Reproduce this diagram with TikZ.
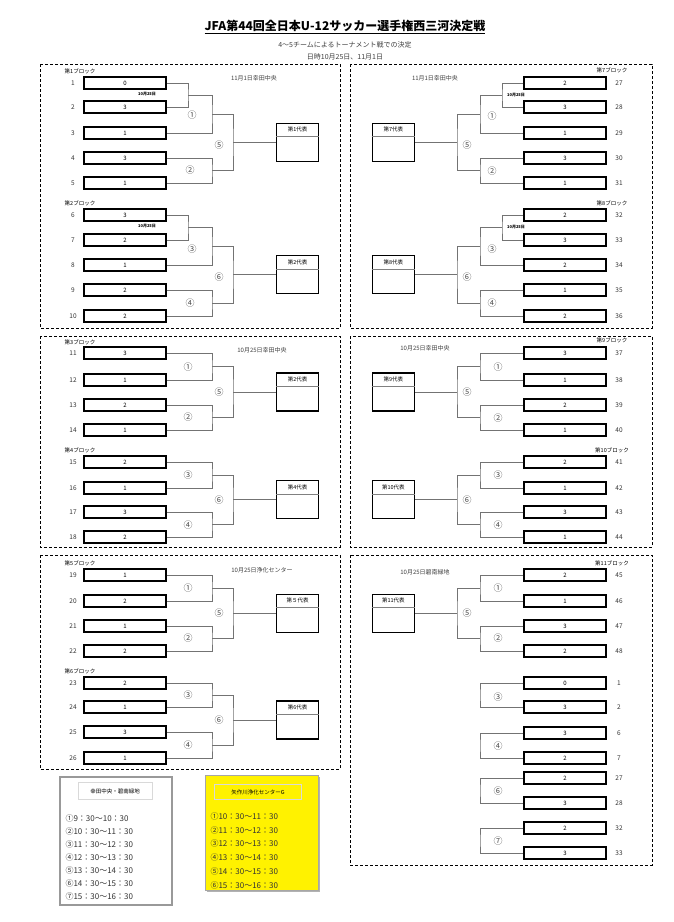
\documentclass[tikz,border=0pt]{standalone}
\usepackage{fontspec}
\setmainfont{Noto Sans CJK JP}
\usetikzlibrary{calc}
\tikzset{
 tbox/.style={draw,line width=1.3pt,minimum width=82pt,minimum height=12pt,inner sep=0pt,font=\fontsize{6}{6}\selectfont},
 num/.style={font=\fontsize{6.5}{6.5}\selectfont,text=black!80},
 conn/.style={draw=black!55,line width=0.6pt},
 repbox/.style={draw,line width=1.3pt,minimum width=42pt,minimum height=38pt,inner sep=0pt},
 small/.style={font=\fontsize{5.5}{5.5}\selectfont},
 tiny/.style={font=\fontsize{4}{4}\selectfont},
 date/.style={font=\fontsize{6}{6}\selectfont,text=black!75},
 circ/.style={font=\fontsize{9}{9}\selectfont,text=black!70},
 panel/.style={draw,line width=0.9pt,dash pattern=on 3pt off 2pt},
 leg/.style={font=\fontsize{8}{8}\selectfont,anchor=west,text=black!80}
}
\newcommand\bjoin[4]{\coordinate (tmpm) at ($(#1)!.5!(#2)$); \coordinate (#4) at (tmpm -| #3); \draw[conn] (#1) -| (#4) |- (#2);}
\newcommand\repL[3]{\node[repbox,anchor=west] (#1) at (#2 -| XLR) {}; \draw[conn] (#2) -- (#1.west);
 \draw[black!50] ($(#1.north west)+(0,14)$) -- ($(#1.north east)+(0,14)$); \node[small] at ($(#1.north)+(0,7)$) {#3};}
\newcommand\repR[3]{\node[repbox,anchor=east] (#1) at (#2 -| XRR) {}; \draw[conn] (#2) -- (#1.east);
 \draw[black!50] ($(#1.north west)+(0,14)$) -- ($(#1.north east)+(0,14)$); \node[small] at ($(#1.north)+(0,7)$) {#3};}
\begin{document}
\begin{tikzpicture}[x=1pt,y=-1pt]
\useasboundingbox (0,0) rectangle (674,922);
\fill[white] (0,0) rectangle (674,922);
\coordinate (XL1) at (188,0); \coordinate (XL2) at (212,0); \coordinate (XL3) at (233,0); \coordinate (XLR) at (276,0);
\coordinate (XR1) at (502,0); \coordinate (XR2) at (480,0); \coordinate (XR3) at (457,0); \coordinate (XRR) at (415,0);
% title
\node[font=\bfseries\fontsize{12}{12}\selectfont] (title) at (345,27) {\underline{JFA第44回全日本U-12サッカー選手権西三河決定戦}};
\node[font=\fontsize{7}{7}\selectfont,text=black!75] (sub) at (345,45) {4〜5チームによるトーナメント戦での決定};
\node[font=\fontsize{7}{7}\selectfont,text=black!75] (sub2) at (345,57) {日時10月25日、11月1日};
% panels
\draw[panel] (40,64) rectangle (340,328); \draw[panel] (40,336) rectangle (340,547); \draw[panel] (40,555) rectangle (340,769);
\draw[panel] (350,64) rectangle (652,328); \draw[panel] (350,336) rectangle (652,547); \draw[panel] (350,555) rectangle (652,865);
% left teams
\foreach \n/\y/\s in {1/83/0,2/107/3,3/133/1,4/158/3,5/183/1,6/215/3,7/240/2,8/265/1,9/290/2,10/316/2,
 11/353/3,12/380/1,13/405/2,14/430/1,15/462/2,16/488/1,17/512/3,18/537/2,19/575/1,20/601/2,21/626/1,22/651/2,
 23/683/2,24/707/1,25/732/3,26/758/1}{\node[tbox] (T\n) at (125,\y) {\s}; \node[num] at (73,\y) {\n};}
\foreach \n/\y/\s in {27/83/2,28/107/3,29/133/1,30/158/3,31/183/1,32/215/2,33/240/3,34/265/2,35/290/1,36/316/2,
 37/353/3,38/380/1,39/405/2,40/430/1,41/462/2,42/488/1,43/512/3,44/537/1,45/575/2,46/601/1,47/626/3,48/651/2}
 {\node[tbox] (T\n) at (565,\y) {\s}; \node[num] at (619,\y) {\n};}
\foreach \n/\y/\s/\l in {1/683/0/1,2/707/3/2,3/733/3/6,4/758/2/7,5/778/2/27,6/803/3/28,7/828/2/32,8/853/3/33}
 {\node[tbox] (E\n) at (565,\y) {\s}; \node[num] at (619,\y) {\l};}
% block labels
\foreach \t/\x/\y in {第1ブロック/80/71,第2ブロック/80/203,第3ブロック/80/342,第4ブロック/80/450,第5ブロック/80/563,第6ブロック/80/671,
 第7ブロック/612/70,第8ブロック/612/203,第9ブロック/612/340,第10ブロック/612/450,第11ブロック/612/563}
 {\node[small] at (\x,\y) {\t};}
\node[tiny,font=\bfseries\fontsize{4}{4}\selectfont] at (147,94) {10月25日};
\node[tiny,font=\bfseries\fontsize{4}{4}\selectfont] at (147,226) {10月25日};
\node[tiny,font=\bfseries\fontsize{4}{4}\selectfont] at (516,95) {10月25日};
\node[tiny,font=\bfseries\fontsize{4}{4}\selectfont] at (516,227) {10月25日};
\node[date] at (254,78) {11月1日幸田中央};
\node[date] at (435,78) {11月1日幸田中央};
\node[date] at (262,350) {10月25日幸田中央};
\node[date] at (425,348) {10月25日幸田中央};
\node[date] at (262,570) {10月25日浄化センター};
\node[date] at (425,572) {10月25日碧南緑地};
% left block 1
\bjoin{T1.east}{T2.east}{XL1}{a1} \bjoin{a1}{T3.east}{XL2}{a2} \bjoin{T4.east}{T5.east}{XL2}{a3} \bjoin{a2}{a3}{XL3}{a4}
\repL{R1}{a4}{第1代表}
\node[circ] at (192,115) {①}; \node[circ] at (219,145) {⑤}; \node[circ] at (190,170) {②};
% left block 2
\bjoin{T6.east}{T7.east}{XL1}{b1} \bjoin{b1}{T8.east}{XL2}{b2} \bjoin{T9.east}{T10.east}{XL2}{b3} \bjoin{b2}{b3}{XL3}{b4}
\repL{R2}{b4}{第2代表}
\node[circ] at (192,249) {③}; \node[circ] at (219,277) {⑥}; \node[circ] at (190,303) {④};
% left 2+2 blocks
\bjoin{T11.east}{T12.east}{XL2}{c1} \bjoin{T13.east}{T14.east}{XL2}{c2} \bjoin{c1}{c2}{XL3}{c3} \repL{R3}{c3}{第2代表}
\node[circ] at (188,367) {①}; \node[circ] at (219,392) {⑤}; \node[circ] at (188,417) {②};
\bjoin{T15.east}{T16.east}{XL2}{d1} \bjoin{T17.east}{T18.east}{XL2}{d2} \bjoin{d1}{d2}{XL3}{d3} \repL{R4}{d3}{第4代表}
\node[circ] at (188,475) {③}; \node[circ] at (219,500) {⑥}; \node[circ] at (188,525) {④};
\bjoin{T19.east}{T20.east}{XL2}{e1} \bjoin{T21.east}{T22.east}{XL2}{e2} \bjoin{e1}{e2}{XL3}{e3} \repL{R5}{e3}{第５代表}
\node[circ] at (188,588) {①}; \node[circ] at (219,613) {⑤}; \node[circ] at (188,638) {②};
\bjoin{T23.east}{T24.east}{XL2}{f1} \bjoin{T25.east}{T26.east}{XL2}{f2} \bjoin{f1}{f2}{XL3}{f3} \repL{R6}{f3}{第6代表}
\node[circ] at (188,695) {③}; \node[circ] at (219,720) {⑥}; \node[circ] at (188,745) {④};
% right block 7
\bjoin{T27.west}{T28.west}{XR1}{g1} \bjoin{g1}{T29.west}{XR2}{g2} \bjoin{T30.west}{T31.west}{XR2}{g3} \bjoin{g2}{g3}{XR3}{g4}
\repR{R7}{g4}{第7代表}
\node[circ] at (492,116) {①}; \node[circ] at (467,145) {⑤}; \node[circ] at (492,171) {②};
\bjoin{T32.west}{T33.west}{XR1}{h1} \bjoin{h1}{T34.west}{XR2}{h2} \bjoin{T35.west}{T36.west}{XR2}{h3} \bjoin{h2}{h3}{XR3}{h4}
\repR{R8}{h4}{第8代表}
\node[circ] at (492,249) {③}; \node[circ] at (467,277) {⑥}; \node[circ] at (492,303) {④};
\bjoin{T37.west}{T38.west}{XR2}{i1} \bjoin{T39.west}{T40.west}{XR2}{i2} \bjoin{i1}{i2}{XR3}{i3} \repR{R9}{i3}{第9代表}
\node[circ] at (498,367) {①}; \node[circ] at (467,392) {⑤}; \node[circ] at (498,418) {②};
\bjoin{T41.west}{T42.west}{XR2}{j1} \bjoin{T43.west}{T44.west}{XR2}{j2} \bjoin{j1}{j2}{XR3}{j3} \repR{R10}{j3}{第10代表}
\node[circ] at (498,475) {③}; \node[circ] at (467,500) {⑥}; \node[circ] at (498,525) {④};
\bjoin{T45.west}{T46.west}{XR2}{k1} \bjoin{T47.west}{T48.west}{XR2}{k2} \bjoin{k1}{k2}{XR3}{k3} \repR{R11}{k3}{第11代表}
\node[circ] at (498,588) {①}; \node[circ] at (467,613) {⑤}; \node[circ] at (498,638) {②};
% extra pairs
\bjoin{E1.west}{E2.west}{XR2}{m1} \node[circ] at (498,697) {③};
\bjoin{E3.west}{E4.west}{XR2}{m2} \node[circ] at (498,746) {④};
\bjoin{E5.west}{E6.west}{XR2}{m3} \node[circ] at (498,791) {⑥};
\bjoin{E7.west}{E8.west}{XR2}{m4} \node[circ] at (498,841) {⑦};
% legends
\draw[black!40,line width=1.5pt,fill=white] (60,777) rectangle (172,905);
\node[draw=black!15,fill=white,minimum width=74pt,minimum height=17pt,font=\fontsize{5.5}{5.5}\selectfont] (lg1) at (115,791) {幸田中央・碧南緑地};
\foreach \t [count=\i] in {①9：30〜10：30,②10：30〜11：30,③11：30〜12：30,④12：30〜13：30,⑤13：30〜14：30,⑥14：30〜15：30,⑦15：30〜16：30}
 {\node[leg] at (62,{805+13*\i}) {\t};}
\fill[black!30] (207,777) rectangle (320,892);
\draw[black!35,line width=1pt,fill=yellow] (205,775) rectangle (318,890);
\node[draw=black!15,fill=yellow,minimum width=87pt,minimum height=15pt,font=\fontsize{5.5}{5.5}\selectfont] (lg2) at (258,792) {矢作川浄化センターG};
\foreach \t [count=\i] in {①10：30〜11：30,②11：30〜12：30,③12：30〜13：30,④13：30〜14：30,⑤14：30〜15：30,⑥15：30〜16：30}
 {\node[leg] at (207,{802.5+13.8*\i}) {\t};}
\end{tikzpicture}
\end{document}
